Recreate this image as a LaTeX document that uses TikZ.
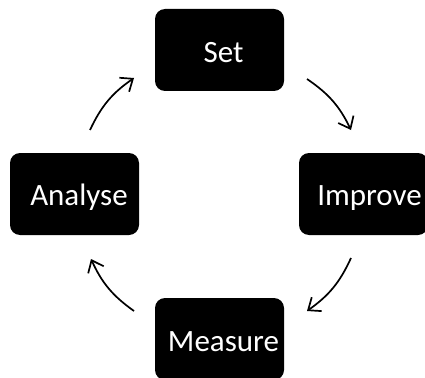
\documentclass[tikz,border=0pt]{standalone}
\usepackage{fontspec}
\setmainfont{Carlito}
\usetikzlibrary{arrows.meta}
\begin{document}
\begin{tikzpicture}[x=1pt,y=-1pt,
  stagebox/.style={fill=black,rounded corners=10pt,minimum width=129pt,minimum height=82pt,inner sep=0pt},
  stagetext/.style={text=white,anchor=base,inner sep=0pt,font=\fontsize{31}{36}\selectfont},
  cyclearrow/.style={line width=1.7pt,-{Straight Barb[length=10.5pt,width=17pt,line width=1.7pt]}}]
\useasboundingbox (0,0) rectangle (425,377);
\clip (0,0) rectangle (425,377);
\node[stagebox] (set) at (219.5,50) {};
\node[stagebox] (improve) at (363.5,194) {};
\node[stagebox] (measure) at (219.5,339) {};
\node[stagebox] (analyse) at (74.5,194) {};
\node[stagetext] (settext) at (223.5,63) {Set};
\node[stagetext] (improvetext) at (369.5,205) {Improve};
\node[stagetext] (measuretext) at (223.5,351) {Measure};
\node[stagetext] (analysetext) at (79,205) {Analyse};
\coordinate (a1s) at (90,130);
\coordinate (a1e) at (134,78);
\coordinate (a2s) at (307,79);
\coordinate (a2e) at (351,130);
\coordinate (a3s) at (351,258);
\coordinate (a3e) at (307,311);
\coordinate (a4s) at (134,311);
\coordinate (a4e) at (91,259);
\draw[cyclearrow] (a1s) to[bend left=15] (a1e);
\draw[cyclearrow] (a2s) to[bend left=15] (a2e);
\draw[cyclearrow] (a3s) to[bend left=15] (a3e);
\draw[cyclearrow] (a4s) to[bend left=15] (a4e);
\end{tikzpicture}
\end{document}
